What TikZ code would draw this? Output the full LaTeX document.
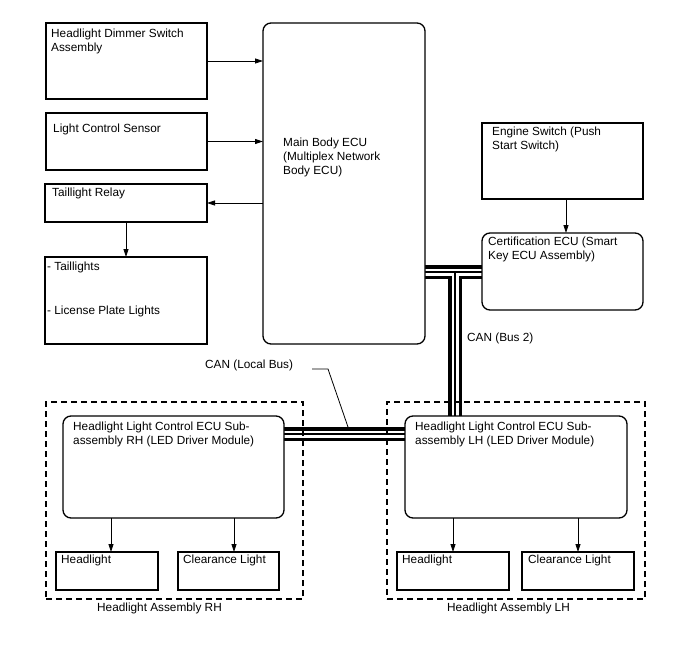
\documentclass[tikz,border=0pt]{standalone}
\usepackage{fontspec}
\setmainfont{Liberation Sans}
\usetikzlibrary{arrows.meta}
\pgfdeclarelayer{background}
\pgfsetlayers{background,main}
\begin{document}
\begin{tikzpicture}[x=1pt,y=-1pt,
  box/.style={draw, line width=1.3pt, fill=white, rectangle, inner sep=0pt, outer sep=0pt, anchor=north west},
  rbox/.style={box, rounded corners=8pt},
  dbox/.style={draw, line width=1.3pt, dash pattern=on 6pt off 4pt, rectangle, inner sep=0pt, outer sep=0pt, anchor=north west},
  txt/.style={anchor=north west, inner sep=0pt, align=left, font=\fontsize{11.8}{14}\selectfont},
  arr/.style={-{Triangle[length=8pt,width=5pt]}, line width=0.8pt},
  busout/.style={line width=14pt},
  busmid/.style={white, line width=7pt},
  buscen/.style={line width=1.1pt}
]
\useasboundingbox (0,0) rectangle (688,658);

% dashed assemblies
\node[dbox, minimum width=257pt, minimum height=197pt] (asmRH) at (46,402) {};
\node[dbox, minimum width=258pt, minimum height=197pt] (asmLH) at (387,402) {};

% boxes
\node[box, minimum width=161pt, minimum height=76pt] (dimmer) at (46,23) {};
\node[box, minimum width=161pt, minimum height=57pt] (lcs) at (46,113) {};
\node[box, minimum width=162pt, minimum height=38pt] (relay) at (45,184) {};
\node[box, minimum width=162pt, minimum height=87pt] (tail) at (45,257) {};
\node[rbox, minimum width=162pt, minimum height=321pt] (main) at (263,23) {};
\node[box, minimum width=161pt, minimum height=76pt] (engine) at (482,123) {};
\node[rbox, minimum width=161pt, minimum height=77pt] (cert) at (482,233) {};
\node[rbox, minimum width=221pt, minimum height=102pt] (rhecu) at (63,416) {};
\node[box, minimum width=102pt, minimum height=38pt] (rhhl) at (56,552) {};
\node[box, minimum width=101pt, minimum height=38pt] (rhcl) at (178,552) {};
\node[rbox, minimum width=222pt, minimum height=102pt] (lhecu) at (405,416) {};
\node[box, minimum width=112pt, minimum height=38pt] (lhhl) at (397,552) {};
\node[box, minimum width=112pt, minimum height=38pt] (lhcl) at (522,552) {};

% texts
\node[txt] (tdimmer) at (51,29) {Headlight Dimmer Switch\\Assembly};
\node[txt] (tlcs) at (53,124) {Light Control Sensor};
\node[txt] (trelay) at (52,188) {Taillight Relay};
\node[txt] (ttail) at (47,262) {- Taillights\\[30pt]- License Plate Lights};
\node[txt] (tmain) at (283,138) {Main Body ECU\\(Multiplex Network\\Body ECU)};
\node[txt] (tengine) at (492,127) {Engine Switch (Push\\Start Switch)};
\node[txt] (tcert) at (488,237) {Certification ECU (Smart\\Key ECU Assembly)};
\node[txt] (tbus2) at (467,333) {CAN (Bus 2)};
\node[txt] (tlocal) at (205,360) {CAN (Local Bus)};
\node[txt] (trhecu) at (73,422) {Headlight Light Control ECU Sub-\\assembly RH (LED Driver Module)};
\node[txt] (trhhl) at (61,555) {Headlight};
\node[txt] (trhcl) at (183,555) {Clearance Light};
\node[txt] (tasmRH) at (97,603) {Headlight Assembly RH};
\node[txt] (tlhecu) at (415,422) {Headlight Light Control ECU Sub-\\assembly LH (LED Driver Module)};
\node[txt] (tlhhl) at (402,555) {Headlight};
\node[txt] (tlhcl) at (528,555) {Clearance Light};
\node[txt] (tasmLH) at (447,603) {Headlight Assembly LH};

% arrows
\draw[arr] (dimmer.east) -- (main.west |- dimmer.east);
\draw[arr] (lcs.east) -- (main.west |- lcs.east);
\draw[arr] (main.west |- relay.east) -- (relay.east);
\draw[arr] (relay.south) -- (tail.north);
\coordinate (xe) at (566,0);
\draw[arr] (engine.south -| xe) -- (cert.north -| xe);
\coordinate (xa) at (111,0);
\coordinate (xb) at (234,0);
\coordinate (xc) at (453,0);
\coordinate (xd) at (578,0);
\draw[arr] (rhecu.south -| xa) -- (rhhl.north -| xa);
\draw[arr] (rhecu.south -| xb) -- (rhcl.north -| xb);
\draw[arr] (lhecu.south -| xc) -- (lhhl.north -| xc);
\draw[arr] (lhecu.south -| xd) -- (lhcl.north -| xd);

% CAN buses
\coordinate (tj) at (455,272);
\coordinate (lb) at (0,434);
\begin{pgfonlayer}{background}
  \draw[busout, shorten <=-3pt, shorten >=-3pt] (main.east |- tj) -- (cert.west |- tj);
  \draw[busout, shorten >=-3pt] (tj) -- (tj |- lhecu.north);
  \draw[busout, shorten <=-3pt, shorten >=-3pt] (rhecu.east |- lb) -- (lhecu.west |- lb);
  \draw[busmid, shorten <=-3pt, shorten >=-3pt] (main.east |- tj) -- (cert.west |- tj);
  \draw[busmid, shorten >=-3pt] (tj) -- (tj |- lhecu.north);
  \draw[busmid, shorten <=-3pt, shorten >=-3pt] (rhecu.east |- lb) -- (lhecu.west |- lb);
  \draw[buscen, shorten <=-3pt, shorten >=-3pt] (main.east |- tj) -- (cert.west |- tj);
  \draw[buscen, shorten >=-3pt] (tj) -- (tj |- lhecu.north);
  \draw[buscen, shorten <=-3pt, shorten >=-3pt] (rhecu.east |- lb) -- (lhecu.west |- lb);
\end{pgfonlayer}

% leader for local bus label
\coordinate (ld1) at (312,369);
\coordinate (ld2) at (328,369);
\coordinate (ld3) at (348,427);
\draw[line width=0.8pt] (ld1) -- (ld2) -- (ld3);
\end{tikzpicture}
\end{document}
